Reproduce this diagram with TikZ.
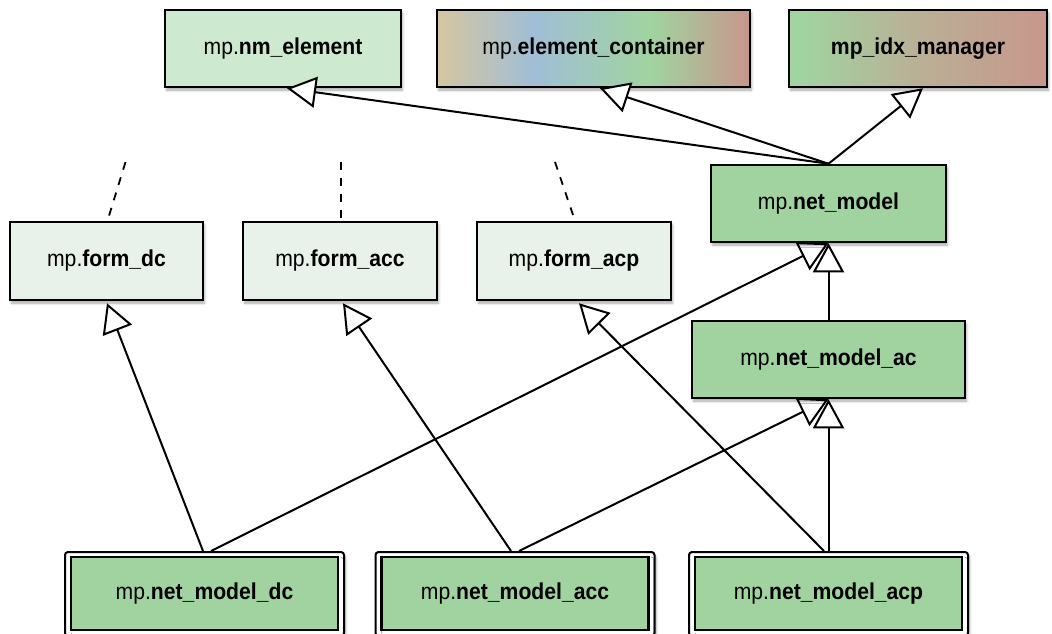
\documentclass[tikz,border=0pt]{standalone}
\usepackage{fontspec}
\setmainfont[FakeStretch=0.92]{Liberation Sans}
\usetikzlibrary{arrows.meta,shadows.blur}
\definecolor{gMid}{RGB}{160,211,160}
\definecolor{gLight}{RGB}{205,233,207}
\definecolor{gPale}{RGB}{232,242,234}
\definecolor{ecTan}{RGB}{214,198,160}
\definecolor{ecBlue}{RGB}{160,190,214}
\definecolor{ecGreen}{RGB}{160,212,160}
\definecolor{ecRose}{RGB}{200,150,140}
\definecolor{idTan}{RGB}{186,176,150}
\pgfdeclarehorizontalshading{ecshade}{100bp}{color(0bp)=(ecTan); color(25bp)=(ecTan); color(40.5bp)=(ecBlue); color(59bp)=(ecGreen); color(75bp)=(ecRose); color(100bp)=(ecRose)}
\pgfdeclarehorizontalshading{idshade}{100bp}{color(0bp)=(ecGreen); color(27bp)=(ecGreen); color(50bp)=(idTan); color(75bp)=(ecRose); color(100bp)=(ecRose)}
\pgfdeclarelayer{bg}
\pgfsetlayers{bg,main}
\tikzset{
  box/.style={draw=black, line width=2.5pt, inner sep=0pt, minimum height=77pt,
    font=\fontsize{23}{26}\selectfont,
    blur shadow={shadow xshift=1.5pt, shadow yshift=-3pt, shadow blur radius=2.5pt, shadow opacity=35}},
  outerbox/.style={draw=black, line width=2pt, fill=white, rounded corners=3pt, inner sep=0pt,
    minimum width=279pt, minimum height=84pt,
    blur shadow={shadow xshift=1.5pt, shadow yshift=-3pt, shadow blur radius=2.5pt, shadow opacity=35}},
  conn/.style={line width=2pt, -{Triangle[length=29pt, width=31pt, line width=2pt, fill=white]}},
  dashline/.style={line width=1.8pt, dash pattern=on 8pt off 8pt},
}
\begin{document}
\begin{tikzpicture}[x=1pt,y=-1pt]
\useasboundingbox (0,0) rectangle (1052,634);
% top row
\node[box, fill=gLight, minimum width=236pt] (nm) at (283,48.5) {mp.\textbf{nm\_element}};
\node[box, shading=ecshade, minimum width=313pt] (ec) at (593.5,48.5) {mp.\textbf{element\_container}};
\node[box, shading=idshade, minimum width=258pt] (idx) at (918,48.5) {\textbf{mp\_idx\_manager}};
% middle
\node[box, fill=gMid, minimum width=235pt] (nmod) at (828.5,203.5) {mp.\textbf{net\_model}};
\node[box, fill=gPale, minimum width=193pt, minimum height=78pt] (fdc) at (106.5,261) {mp.\textbf{form\_dc}};
\node[box, fill=gPale, minimum width=194pt, minimum height=78pt] (facc) at (340,261) {mp.\textbf{form\_acc}};
\node[box, fill=gPale, minimum width=194pt, minimum height=78pt] (facp) at (574,261) {mp.\textbf{form\_acp}};
\node[box, fill=gMid, minimum width=273pt] (nac) at (828.5,359.5) {mp.\textbf{net\_model\_ac}};
% bottom
\node[outerbox] (dcO) at (204.5,594) {};
\node[box, fill=gMid, minimum width=267pt, minimum height=73pt, blur shadow={shadow opacity=0}] (dc) at (204.5,593.5) {mp.\textbf{net\_model\_dc}};
\node[outerbox] (accO) at (515,594) {};
\node[box, fill=gMid, minimum width=267pt, minimum height=73pt, blur shadow={shadow opacity=0}] (acc) at (515,593.5) {mp.\textbf{net\_model\_acc}};
\node[outerbox] (acpO) at (828.5,594) {};
\node[box, fill=gMid, minimum width=267pt, minimum height=73pt, blur shadow={shadow opacity=0}] (acp) at (828.5,593.5) {mp.\textbf{net\_model\_acp}};
% dashed stubs (pattern starts at the free upper end)
\coordinate (dA) at (125.5,162);
\coordinate (dB) at (341,162);
\coordinate (dC) at (555,162);
\draw[dashline] (dA) -- ([xshift=1pt]fdc.north);
\draw[dashline] (dB) -- ([xshift=1pt]facc.north);
\draw[dashline] (dC) -- ([xshift=1pt]facp.north);
% connectors to the top row (drawn over the boxes)
\draw[conn] (nmod.north) -- ([xshift=4pt]nm.south);
\draw[conn] (nmod.north) -- ([xshift=6.5pt]ec.south);
\draw[conn] (nmod.north) -- ([xshift=5pt]idx.south);
% lower connectors (behind the boxes)
\begin{pgfonlayer}{bg}
\draw[conn] ([xshift=-1.5pt]dcO.north) -- ([xshift=0.5pt,yshift=-2pt]fdc.south);
\draw[conn] ([xshift=-4pt]accO.north) -- ([xshift=3pt,yshift=-2pt]facc.south);
\draw[conn] ([xshift=-4.5pt]acpO.north) -- ([xshift=5pt,yshift=-2pt]facp.south);
\draw[conn] ([xshift=6.5pt]dcO.north) -- (nmod.south);
\draw[conn] ([xshift=4pt]accO.north) -- (nac.south);
\draw[conn] (nac.north) -- (nmod.south);
\draw[conn] (acpO.north) -- (nac.south);
\end{pgfonlayer}
\end{tikzpicture}
\end{document}
